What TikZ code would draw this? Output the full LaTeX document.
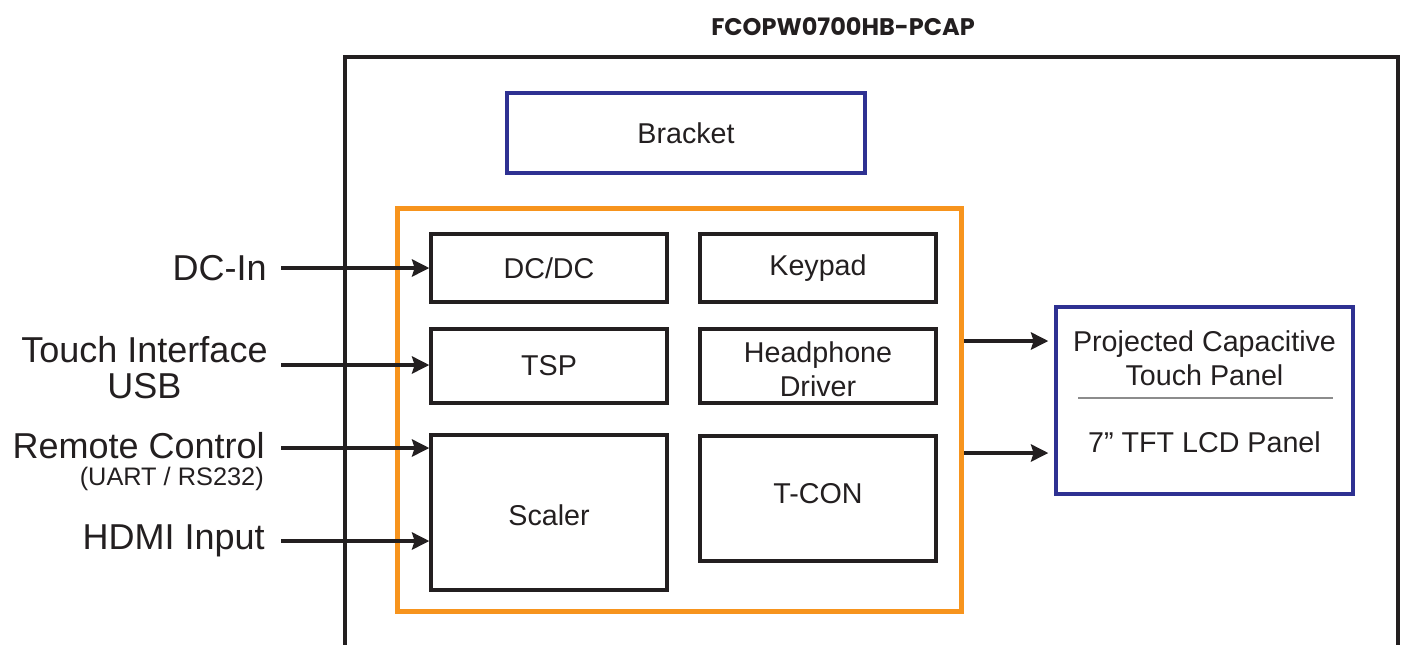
\documentclass[tikz,border=0pt]{standalone}
\usepackage{fontspec}
\setmainfont{Liberation Sans}
\newfontfamily\titlefont{Poppins}
\usetikzlibrary{arrows.meta}
\definecolor{ink}{HTML}{231F20}
\definecolor{orng}{HTML}{F7941D}
\definecolor{navy}{HTML}{2E3192}
\definecolor{sepgray}{HTML}{8C8C8C}
\begin{document}
\begin{tikzpicture}[x=0.75pt,y=-0.75pt,
  blk/.style={draw=ink, line width=2.6pt, inner sep=0pt, minimum width=177pt, text=ink,
              font=\fontsize{21.5}{25.5}\selectfont, align=center},
  navybox/.style={draw=navy, line width=2.6pt, inner sep=0pt, text=ink,
              font=\fontsize{21.5}{25.5}\selectfont},
  orangebox/.style={draw=orng, line width=3.8pt, inner sep=0pt},
  lbl/.style={text=ink, inner sep=0pt, font=\fontsize{27}{27}\selectfont},
  sublbl/.style={text=ink, inner sep=0pt, font=\fontsize{19}{19}\selectfont},
  ptxt/.style={text=ink, inner sep=0pt, font=\fontsize{21.5}{25.5}\selectfont},
  arr/.style={draw=ink, line width=2.3pt, -{Stealth[length=13pt,width=13pt,inset=2pt]}},
  outerline/.style={draw=ink, line width=3pt}
]
\useasboundingbox (0,0) rectangle (1402,644);
\begin{scope}
\clip (0,0) rectangle (1402,644);
\draw[outerline] (345,57) rectangle (1398,720);
\end{scope}

\node[text=ink, inner sep=0pt, font=\titlefont\bfseries\fontsize{18}{18}\selectfont] (title) at (843,27) {FCOPW0700HB-PCAP};

\node[navybox, minimum width=268.5pt, minimum height=60pt] (bracket) at (686,133) {Bracket};
\node[orangebox, minimum width=423pt, minimum height=302.25pt] (board) at (679.5,410) {};

\node[blk, minimum height=51pt] (dcdc) at (549,268) {DC/DC};
\node[blk, minimum height=51pt] (keypad) at (818,268) {Keypad};
\node[blk, minimum height=55.5pt] (tsp) at (549,366) {TSP};
\node[blk, minimum height=55.5pt] (hp) at (818,366) {};
\node[ptxt, align=center] (hptxt) at (818,369) {Headphone\\Driver};
\node[blk, minimum height=116.25pt] (scaler) at (549,512.5) {};
\node[ptxt] (scalertxt) at (549,515) {Scaler};
\node[blk, minimum height=93.75pt] (tcon) at (818,498.5) {};
\node[ptxt] (tcontxt) at (818,494) {T-CON};

\node[navybox, minimum width=222.75pt, minimum height=140.25pt] (panel) at (1204.5,400.5) {};
\node[ptxt, align=center] (pctp) at (1204.5,358) {Projected Capacitive\\Touch Panel};
\node[ptxt] (lcd) at (1204.5,442) {7” TFT LCD Panel};
\coordinate (sepl) at (1078,398);
\coordinate (sepr) at (1333,398);
\draw[draw=sepgray, line width=1.2pt] (sepl) -- (sepr);

\node[lbl, anchor=east] (dcin) at (267,268) {DC-In};
\node[lbl, align=center] (touch) at (144.5,368) {Touch Interface\\USB};
\node[lbl, anchor=east] (remote) at (265,446) {Remote Control};
\node[sublbl, anchor=east] (uart) at (264,479) {(UART / RS232)};
\node[lbl, anchor=east] (hdmi) at (265,541) {HDMI Input};

\coordinate (s1) at (281,268);
\coordinate (s2) at (281,365);
\coordinate (s3) at (281,448);
\coordinate (s4) at (281,541);
\draw[arr] (s1) -- (s1 -| dcdc.west);
\draw[arr] (s2) -- (s2 -| tsp.west);
\draw[arr] (s3) -- (s3 -| scaler.west);
\draw[arr] (s4) -- (s4 -| scaler.west);

\coordinate (r1) at (964,341);
\coordinate (r2) at (964,453);
\draw[arr, shorten >=4.5pt] (r1 -| board.east) -- (r1 -| panel.west);
\draw[arr, shorten >=4.5pt] (r2 -| board.east) -- (r2 -| panel.west);
\end{tikzpicture}
\end{document}
